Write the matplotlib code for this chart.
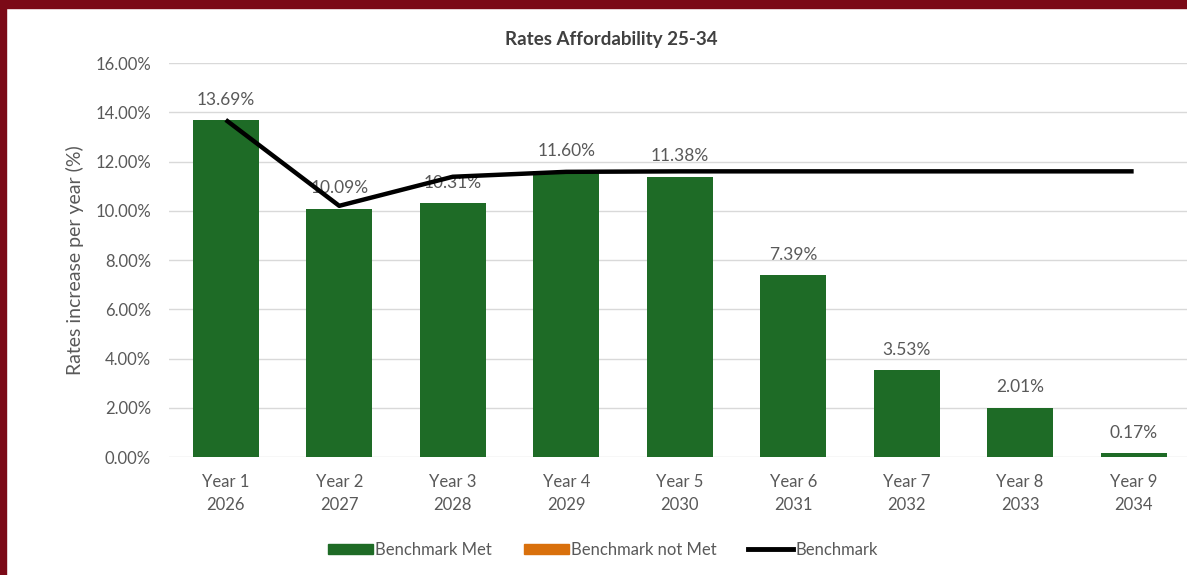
import matplotlib
matplotlib.use("Agg")
import matplotlib.pyplot as plt
from matplotlib.patches import Patch, Rectangle
from matplotlib.lines import Line2D
from matplotlib.ticker import FuncFormatter

categories = ["Year 1\n2026", "Year 2\n2027", "Year 3\n2028", "Year 4\n2029", "Year 5\n2030",
              "Year 6\n2031", "Year 7\n2032", "Year 8\n2033", "Year 9\n2034"]
rates = [13.69, 10.09, 10.31, 11.60, 11.38, 7.39, 3.53, 2.01, 0.17]
benchmark = [13.69, 10.20, 11.38, 11.58, 11.60, 11.60, 11.60, 11.60, 11.60]
yticks = [0, 2, 4, 6, 8, 10, 12, 14, 16]

GREEN = "#1e6b26"
ORANGE = "#d9700c"
GREY = "#595959"
MAROON = "#7b0a17"

plt.rcParams["font.family"] = ["Lato", "DejaVu Sans"]

fig = plt.figure(figsize=(11.87, 5.75), dpi=100)
fig.patch.set_facecolor("white")

# maroon frame on top and left
fig.patches.append(Rectangle((0, 1 - 8 / 575), 1, 8 / 575, transform=fig.transFigure,
                             color=MAROON, zorder=10))
fig.patches.append(Rectangle((0, 0), 6 / 1187, 1, transform=fig.transFigure,
                             color=MAROON, zorder=10))

ax = fig.add_axes([169 / 1187, 1 - 457 / 575, 1018 / 1187, (457 - 63) / 575])
x = list(range(len(categories)))
ax.bar(x, rates, width=0.58, color=GREEN, zorder=2)
ax.plot(x, benchmark, color="black", linewidth=3.2, zorder=3, solid_capstyle="butt")

for xi, v in zip(x, rates):
    ax.text(xi, v + 0.5, f"{v:.2f}%", ha="center", va="bottom", fontsize=12.5, color=GREY, zorder=1)

ax.set_xlim(-0.5, 8.47)
ax.set_ylim(0, 16)
ax.set_yticks(yticks)
ax.yaxis.set_major_formatter(FuncFormatter(lambda v, _: f"{v:.2f}%"))
ax.set_xticks(x)
ax.set_xticklabels(categories, linespacing=1.55)
ax.tick_params(axis="both", length=0, labelsize=12, labelcolor=GREY)
ax.tick_params(axis="y", pad=13)
ax.tick_params(axis="x", pad=12)
ax.grid(axis="y", color="#d9d9d9", linewidth=1, zorder=0)
for s in ax.spines.values():
    s.set_visible(False)
ax.set_ylabel("Rates increase per year (%)", fontsize=14, color=GREY, labelpad=8)

fig.text(611 / 1187, 1 - 40 / 575, "Rates Affordability 25-34", ha="center", va="center",
         fontsize=13.5, fontweight="bold", color="#404040")

handles = [Patch(color=GREEN, label="Benchmark Met"),
           Patch(color=ORANGE, label="Benchmark not Met"),
           Line2D([0], [0], color="black", linewidth=3.5, label="Benchmark")]
fig.legend(handles=handles, loc="center", bbox_to_anchor=(603 / 1187, 1 - 550 / 575), ncol=3,
           frameon=False, fontsize=12, labelcolor=GREY, handlelength=2.7, handleheight=0.6,
           columnspacing=1.9, handletextpad=0.15)

fig.savefig("out.png", dpi=100)
